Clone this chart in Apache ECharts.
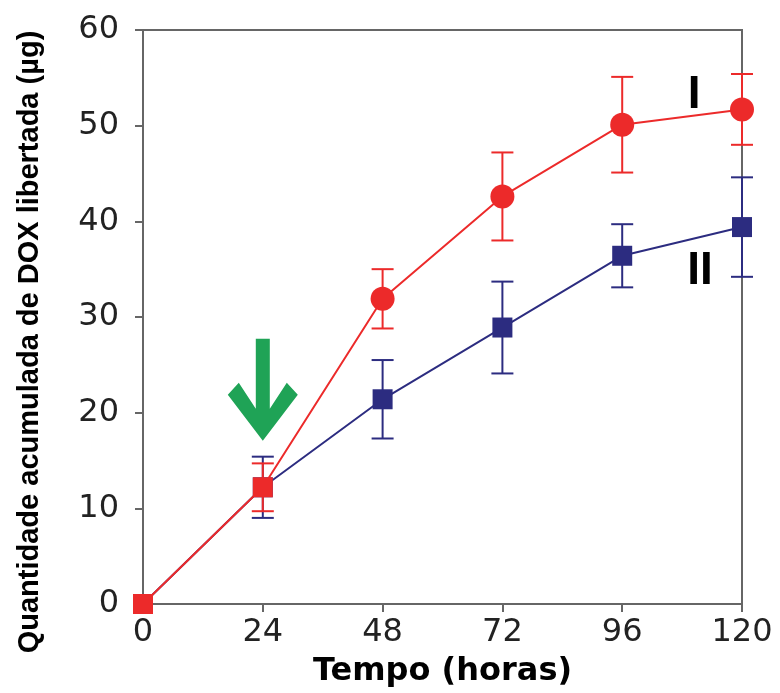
<!DOCTYPE html>
<html>
<head>
<meta charset="utf-8">
<script src="https://cdn.jsdelivr.net/npm/echarts@6/dist/echarts.min.js"></script>
<style>
  html, body { margin: 0; padding: 0; background: #fff; }
  #chart { width: 780px; height: 693px; }
</style>
</head>
<body>
<div id="chart"></div>
<script>
// dados
const hours = [0, 24, 48, 72, 96, 120]
const seriesI = [0, 12.2, 31.9, 42.6, 50.1, 51.7]
const errI = [0, 2.5, 3.1, 4.6, 5.0, 3.7]
const seriesII = [0, 12.2, 21.4, 28.9, 36.4, 39.4]
const errII = [0, 3.2, 4.1, 4.8, 3.3, 5.2]
const xTicks = [0, 24, 48, 72, 96, 120]
const yTicks = [0, 10, 20, 30, 40, 50, 60]

const RED = '#ec2a2a'
const BLUE = '#2c2c80'
const GREEN = '#1fa356'
const AXIS = '#666'

const chart = echarts.init(document.getElementById('chart'))

// barras de erro
const errData = (vals, errs) => hours
  .map((h, i) => [h, vals[i] - errs[i], vals[i] + errs[i]])
  .filter((d, i) => errs[i] > 0)

const errRender = color => (params, api) => {
  const x = api.value(0)
  const top = api.coord([x, api.value(2)])
  const bot = api.coord([x, api.value(1)])
  const half = 11
  const style = { stroke: color, lineWidth: 2 }
  return {
    type: 'group',
    children: [
      { type: 'line', shape: { x1: top[0], y1: top[1], x2: bot[0], y2: bot[1] }, style },
      { type: 'line', shape: { x1: top[0] - half, y1: top[1], x2: top[0] + half, y2: top[1] }, style },
      { type: 'line', shape: { x1: bot[0] - half, y1: bot[1], x2: bot[0] + half, y2: bot[1] }, style }
    ]
  }
}

const arrowPath = 'path://M28,0 L42,0 L42,70 L59,44 L70,56 L35,102 L0,56 L11,44 L28,70 Z'

const option = {
  animation: false,
  grid: {
    left: 143, top: 30, right: 38, bottom: 87,
    show: true, borderColor: AXIS, borderWidth: 2
  },
  xAxis: {
    type: 'value',
    min: 0, max: 120, interval: 24,
    name: 'Tempo (horas)',
    nameLocation: 'middle',
    nameGap: 52,
    nameTextStyle: { fontFamily: 'DejaVu Sans', fontWeight: 'bold', fontSize: 32, color: '#000' },
    axisLine: { lineStyle: { color: AXIS, width: 2 } },
    axisTick: { show: true, inside: false, length: 8, lineStyle: { color: AXIS, width: 2 } },
    axisLabel: {
      margin: 13, fontFamily: 'DejaVu Sans', fontSize: 32, color: '#222',
      formatter: v => xTicks.includes(v) ? String(v) : ''
    },
    splitLine: { show: false }
  },
  yAxis: {
    type: 'value',
    min: 0, max: 60, interval: 10,
    axisLine: { show: true, lineStyle: { color: AXIS, width: 2 } },
    axisTick: { show: true, inside: false, length: 8, lineStyle: { color: AXIS, width: 2 } },
    axisLabel: {
      margin: 24, fontFamily: 'DejaVu Sans', fontSize: 32, color: '#222',
      formatter: v => yTicks.includes(v) ? String(v) : ''
    },
    splitLine: { show: false }
  },
  graphic: [{
    type: 'text',
    x: 30, y: 342,
    rotation: Math.PI / 2,
    style: {
      text: 'Quantidade acumulada de DOX libertada (µg)',
      font: 'bold 29px "Liberation Sans"',
      fill: '#000',
      align: 'center',
      verticalAlign: 'middle'
    }
  }],
  series: [
    {
      type: 'custom', name: 'errII', z: 2, clip: false,
      renderItem: errRender(BLUE),
      data: errData(seriesII, errII)
    },
    {
      type: 'line', name: 'II', z: 3, clip: false,
      data: hours.map((h, i) => [h, seriesII[i]]),
      symbol: 'rect', symbolSize: 20,
      lineStyle: { color: BLUE, width: 2 },
      itemStyle: { color: BLUE },
      markPoint: {
        symbol: 'rect', symbolSize: 1,
        itemStyle: { color: 'transparent' },
        label: { show: true, position: 'inside', formatter: 'II', fontFamily: 'Liberation Sans', fontWeight: 'bold', fontSize: 46, color: '#000' },
        data: [{ coord: [111.6, 34.8] }]
      }
    },
    {
      type: 'custom', name: 'errI', z: 4, clip: false,
      renderItem: errRender(RED),
      data: errData(seriesI, errI)
    },
    {
      type: 'line', name: 'I', z: 5, clip: false,
      data: hours.map((h, i) => ({
        value: [h, seriesI[i]],
        symbol: i < 2 ? 'rect' : 'circle',
        symbolSize: i < 2 ? 20 : 24
      })),
      lineStyle: { color: RED, width: 2 },
      itemStyle: { color: RED },
      markPoint: {
        data: [
          {
            coord: [24, 22.4], symbol: arrowPath, symbolSize: [70, 102],
            itemStyle: { color: GREEN }, label: { show: false }
          },
          {
            coord: [110.4, 53.2], symbol: 'rect', symbolSize: 1,
            itemStyle: { color: 'transparent' },
            label: { show: true, position: 'inside', formatter: 'I', fontFamily: 'Liberation Sans', fontWeight: 'bold', fontSize: 46, color: '#000' }
          }
        ]
      }
    }
  ]
}

chart.setOption(option)
</script>
</body>
</html>
